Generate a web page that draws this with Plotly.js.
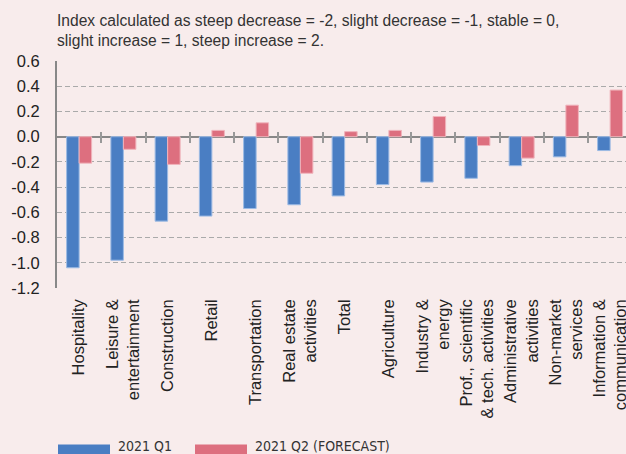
<!DOCTYPE html>
<html>
<head>
<meta charset="utf-8">
<script src="https://cdn.plot.ly/plotly-3.0.1.min.js"></script>
<style>html,body{margin:0;padding:0;background:#f8ecec;overflow:hidden}</style>
</head>
<body>
<div id="chart" style="width:626px;height:454px"></div>
<script>
const categories = ['Hospitality', 'Leisure &<br>entertainment', 'Construction', 'Retail', 'Transportation',
  'Real estate<br>activities', 'Total', 'Agriculture', 'Industry &<br>energy',
  'Prof., scientific<br>& tech. activities', 'Administrative<br>activities', 'Non-market<br>services',
  'Information &<br>communication'];
const q1Values = [-1.04, -0.98, -0.67, -0.63, -0.57, -0.54, -0.47, -0.38, -0.36, -0.33, -0.23, -0.16, -0.11];
const q2Values = [-0.21, -0.10, -0.22, 0.05, 0.11, -0.29, 0.04, 0.05, 0.16, -0.07, -0.17, 0.25, 0.37];
const seriesNames = ['2021 Q1', '2021 Q2 (FORECAST)'];
const yTickVals = [0.6, 0.4, 0.2, 0.0, -0.2, -0.4, -0.6, -0.8, -1.0, -1.2];
const yTickText = ['0.6', '0.4', '0.2', '0.0', '-0.2', '-0.4', '-0.6', '-0.8', '-1.0', '-1.2'];
const noteText = 'Index calculated as steep decrease = -2, slight decrease = -1, stable = 0,<br>slight increase = 1, steep increase = 2.';

const W = 626, H = 454, ML = 57, MT = 61, MB = 166;
const PW = W - ML, PH = H - MT - MB;
const px2x = px => (px - ML) / PW;
const py2y = py => (H - MB - py) / PH;
const FONT = '"Liberation Sans", Arial, Helvetica, sans-serif';
const LEGFONT = '"DejaVu Sans Condensed", "Liberation Sans Narrow", sans-serif';
const blue = '#4a7ec3', red = '#dd6f7f';

const traces = [
  {type: 'bar', x: categories, y: q1Values, name: seriesNames[0],
   marker: {color: blue, line: {color: '#9dbbe4', width: 1}}},
  {type: 'bar', x: categories, y: q2Values, name: seriesNames[1],
   marker: {color: red, line: {color: '#f0b3bb', width: 1}}}
];

const boundaries = categories.slice(1).map((_, i) => i + 0.5);
const xRange = [-0.5, -0.5 + PW / 44.25];

const layout = {
  width: W, height: H,
  margin: {l: ML, r: 0, t: MT, b: MB, pad: 0},
  paper_bgcolor: '#f8ecec', plot_bgcolor: '#f8ecec',
  barmode: 'group', bargap: 0.435, bargroupgap: 0,
  showlegend: false,
  font: {family: FONT, color: '#222'},
  title: {text: noteText, x: 0, xref: 'paper', xanchor: 'left', y: 1 - 26 / H, yref: 'container', yanchor: 'top',
    font: {family: FONT, size: 15.6, color: '#333'}},
  xaxis: {type: 'category', range: xRange, tickangle: -90, ticks: '', showgrid: false, zeroline: false,
    showline: false, tickfont: {family: FONT, size: 16.5, color: '#222'}, ticklabelstandoff: 7, automargin: false},
  xaxis2: {overlaying: 'x', anchor: 'free', position: py2y(130.8), range: xRange, tickmode: 'array',
    tickvals: boundaries, ticks: 'outside', ticklen: 11, tickwidth: 2, tickcolor: '#999',
    showticklabels: false, showgrid: false, zeroline: false, showline: false},
  yaxis: {range: [-1.2005, 0.6005], tickmode: 'array', tickvals: yTickVals, ticktext: yTickText,
    showgrid: true, gridcolor: '#aaa', griddash: '5px,3px', gridwidth: 1,
    zeroline: true, zerolinecolor: '#888', zerolinewidth: 2,
    showline: true, linecolor: '#888', linewidth: 2, ticks: '', ticklabelstandoff: 12,
    tickfont: {family: FONT, size: 16.5, color: '#222'}, automargin: false},
  shapes: [
    {type: 'rect', xref: 'paper', yref: 'paper', x0: px2x(58), x1: px2x(110), y0: py2y(444.5), y1: py2y(470), fillcolor: blue, line: {width: 0}},
    {type: 'rect', xref: 'paper', yref: 'paper', x0: px2x(195), x1: px2x(247), y0: py2y(444.5), y1: py2y(470), fillcolor: red, line: {width: 0}}
  ],
  annotations: [
    {xref: 'paper', yref: 'paper', x: px2x(116), y: py2y(436), xanchor: 'left', yanchor: 'top', showarrow: false,
     text: seriesNames[0], font: {family: LEGFONT, size: 14, color: '#333'}},
    {xref: 'paper', yref: 'paper', x: px2x(253), y: py2y(436), xanchor: 'left', yanchor: 'top', showarrow: false,
     text: seriesNames[1], font: {family: LEGFONT, size: 14, color: '#333'}}
  ]
};

// invisible helper trace so the overlaid tick axis is drawn
traces.push({type: 'scatter', x: boundaries, y: boundaries.map(() => null), xaxis: 'x2', yaxis: 'y',
  hoverinfo: 'skip', showlegend: false, mode: 'markers'});

Plotly.newPlot('chart', traces, layout, {staticPlot: true, displayModeBar: false});
</script>
</body>
</html>
